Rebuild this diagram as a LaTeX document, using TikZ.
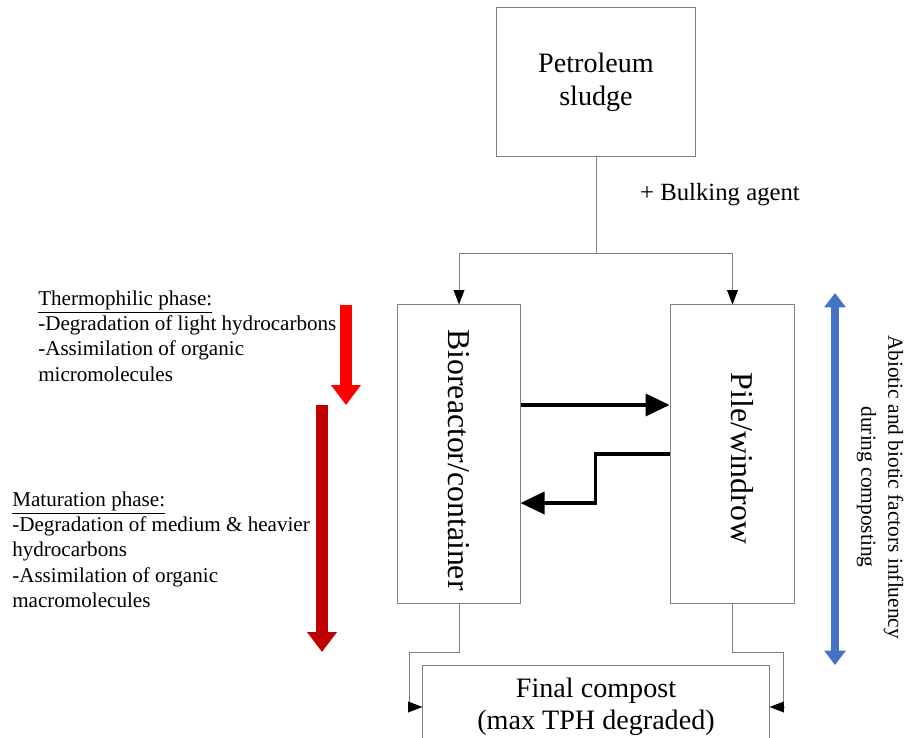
\documentclass[tikz,border=0pt]{standalone}
\usepackage{fontspec}
\setmainfont{Liberation Serif}
\usepackage{xcolor}
\usetikzlibrary{arrows.meta}
\definecolor{hotred}{HTML}{FF0000}
\definecolor{darkred}{HTML}{C00000}
\definecolor{flowblue}{HTML}{4472C4}
\definecolor{edgegray}{HTML}{808080}

\begin{document}
\begin{tikzpicture}[x=0.025cm, y=-0.025cm,
		box/.style={draw=edgegray, line width=0.7pt, inner sep=0pt},
		wire/.style={draw=edgegray, line width=0.7pt},
		link/.style={wire, -{Triangle[width=0.27cm,length=0.36cm,black]}},
		flow/.style={line width=2.6pt, -{Triangle[width=0.55cm,length=0.6cm]}},
		phase/.style={line width=0.3cm, -{Triangle[width=0.72cm,length=0.5cm]}},
		note/.style={anchor=north west, align=left, inner sep=0pt, font=\fontsize{15}{17.8}\selectfont}]
		\useasboundingbox (0,0) rectangle (916,738);

		% process boxes
		\node[box, minimum width=4.95cm, minimum height=3.7cm, align=center,
			font=\fontsize{20}{23.5}\selectfont] (pet) at (596,82) {Petroleum\\sludge};
		\node[box, minimum width=3.05cm, minimum height=7.45cm,
			font=\fontsize{22.6}{26}\selectfont] (bio) at (459,454) {\raisebox{-0.3cm}{\rotatebox{-90}{Bioreactor/container}}};
		\node[box, minimum width=3.12cm, minimum height=7.45cm,
			font=\fontsize{22.6}{26}\selectfont] (pile) at (732.5,454) {\hspace{0.5cm}\raisebox{-0.22cm}{\rotatebox{-90}{Pile/windrow}}};
		\node[box, minimum width=8.65cm, minimum height=2.1cm, align=center,
			font=\fontsize{20}{22.8}\selectfont] (fin) at (596,707) {Final compost\\(max TPH degraded)};

		\node[font=\fontsize{17.6}{20}\selectfont] (bulk) at (720,195) {+ Bulking agent};

		% splitting the sludge
		\coordinate (fork) at (596,253);
		\draw[wire] (pet.south) -- (fork);
		\draw[link] (fork) -| (bio.north);
		\draw[link] (fork) -| (pile.north);

		% exchange between the two systems
		\draw[flow] ([yshift=1.225cm]bio.east) -- ([yshift=1.225cm]pile.west);
		\draw[flow] (pile.west) -- ++(-74,0) |- ([yshift=-1.225cm]bio.east);

		% towards the final compost
		\draw[link] (bio.south) -- ++(0,49) -| ([xshift=-0.33cm]fin.west) -- (fin.west);
		\draw[link] (pile.south) -- ++(0,49) -| ([xshift=0.35cm]fin.east) -- (fin.east);

		% phases
		\node[note] (thermo) at (38,291) {\underline{Thermophilic phase:}\\-Degradation of light hydrocarbons\\-Assimilation of organic\\micromolecules};
		\node[note] (matur) at (12,492) {\underline{Maturation phase:}\\-Degradation of medium \& heavier\\hydrocarbons\\-Assimilation of organic\\macromolecules};
		\draw[phase, hotred] (346,305) -- (346,405);
		\draw[phase, darkred] (322,405) -- (322,652);

		% factors
		\draw[line width=0.2cm, flowblue, {Triangle[width=0.52cm,length=0.36cm]}-{Triangle[width=0.52cm,length=0.36cm]}] (835,293) -- (835,665);
		\node[rotate=-90, align=center, font=\fontsize{15.2}{19.2}\selectfont] (factors) at (880,487) {Abiotic and biotic factors influency\\during composting};
	\end{tikzpicture}
\end{document}
